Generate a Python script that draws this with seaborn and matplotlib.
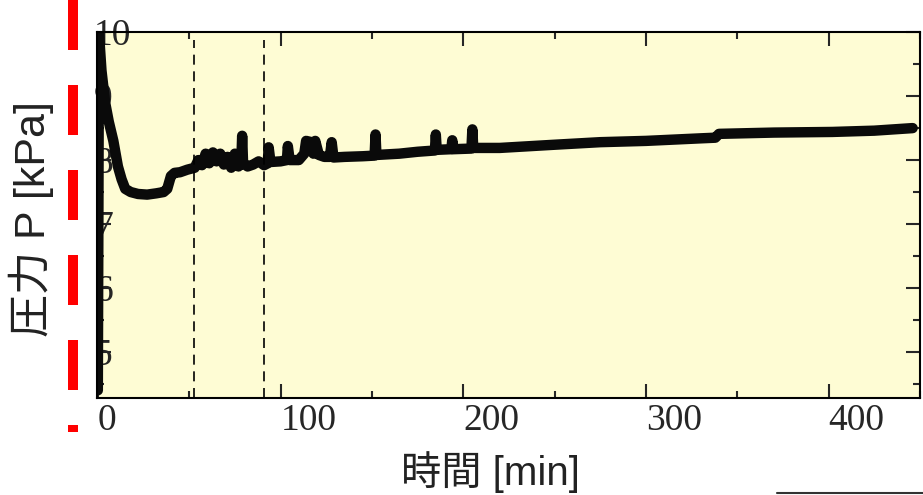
"""
Pressure history over time (圧力 P vs 時間).
"""
import matplotlib
matplotlib.use("Agg")
import matplotlib.pyplot as plt
import numpy as np
import pandas as pd
import seaborn as sns

# values
time_min = [0, 0.3, 0.6, 2, 4, 6, 8.5, 11, 13, 15, 18, 22, 27, 32, 36, 38, 40, 42, 45, 49,
            53, 55, 57, 59, 61, 63, 65, 67, 69, 71, 73, 75, 77, 78.5, 79, 79.5, 82, 85, 88,
            91, 93, 93.5, 94.5, 100, 103.5, 104, 105, 110, 113, 114, 117, 118, 119, 121,
            124, 127, 128, 129, 135, 145, 151.5, 152, 152.5, 165, 175, 184.5, 185, 185.5,
            193.5, 194, 194.5, 204.5, 205, 205.5, 220, 250, 275, 300, 330, 338, 340, 370,
            402, 425, 446]
pressure_kpa = [4.4, 7.0, 10.0, 9.4, 8.9, 8.6, 8.3, 7.9, 7.7, 7.55, 7.5, 7.47, 7.46, 7.48, 7.5,
                7.55, 7.75, 7.8, 7.81, 7.85,
                7.88, 8.0, 7.92, 8.1, 7.95, 8.12, 7.98, 8.1, 7.93, 8.05, 7.88, 8.1, 7.9, 7.95,
                8.38, 7.95, 7.9, 7.93, 7.98,
                7.92, 7.95, 8.2, 7.97, 7.98, 8.0, 8.22, 8.0, 8.0, 8.1, 8.3, 8.28, 8.1, 8.3,
                8.08, 8.05, 8.05, 8.28, 8.04, 8.05, 8.06, 8.07, 8.4, 8.08, 8.1, 8.13, 8.15,
                8.4, 8.16, 8.17, 8.31, 8.17, 8.18, 8.48, 8.19, 8.19, 8.24, 8.28, 8.3, 8.34,
                8.35, 8.41, 8.43, 8.44, 8.46, 8.5]
marker_times = [52.5, 91]
x_ticks = [0, 100, 200, 300, 400]
y_ticks = [5, 6, 7, 8, 9, 10]

df = pd.DataFrame({"time": time_min, "P": pressure_kpa})

sns.set_style("ticks")
plt.rcParams["font.family"] = ["Liberation Serif", "Noto Sans CJK JP"]

fig = plt.figure(figsize=(9.23, 4.95), dpi=100)
ax = fig.add_axes([0.105, 0.196, 0.8917, 0.739])
ax.set_facecolor("#fefcd4")

sns.lineplot(data=df, x="time", y="P", ax=ax, color="#0a0a0a", linewidth=7.5,
             estimator=None, sort=False)

for t in marker_times:
    ax.axvline(t, ymax=0.978, color="black", linestyle=(0, (6, 4)), linewidth=1.2)

ax.set_xlim(-0.5, 450)
ax.set_ylim(4.28, 10)
ax.set_xticks(x_ticks)
ax.set_xticks([50, 150, 250, 350, 450], minor=True)
ax.set_yticks(y_ticks)
ax.set_yticks(np.arange(4.5, 10, 1.0), minor=True)

for s in ax.spines.values():
    s.set_linewidth(1.5)
    s.set_color("black")

ax.tick_params(which="both", direction="in", top=True, right=True, width=1.5)
ax.tick_params(which="major", length=10)
ax.tick_params(which="minor", length=5)
ax.tick_params(axis="x", labelsize=27, pad=4)
ax.tick_params(axis="y", labelsize=27, pad=2)
for lab in ax.get_xticklabels():
    lab.set_horizontalalignment("left")
for lab in ax.get_yticklabels():
    lab.set_horizontalalignment("left")

label_font = ["Liberation Sans", "Noto Sans CJK JP"]
ax.set_xlabel("時間 [min]", fontsize=29, family=label_font, color="#222222")
ax.set_ylabel("圧力 P [kPa]", fontsize=31, family=label_font, color="#222222")
ax.xaxis.set_label_coords(0.478, -0.145)
ax.yaxis.set_label_coords(-0.052, 0.49)

# red dashed marker left of the axis and stray frame edge at bottom right
ax.plot([-13.7, -13.7], [1.0874, -0.0929], transform=ax.get_xaxis_transform(),
        color="red", linewidth=7.2, linestyle=(0, (5.0, 3.5)), clip_on=False)
ax.plot([0.826, 1.01], [-0.26, -0.26], transform=ax.transAxes,
        color="#333333", linewidth=1.5, clip_on=False)

fig.savefig("out.png", dpi=100)
